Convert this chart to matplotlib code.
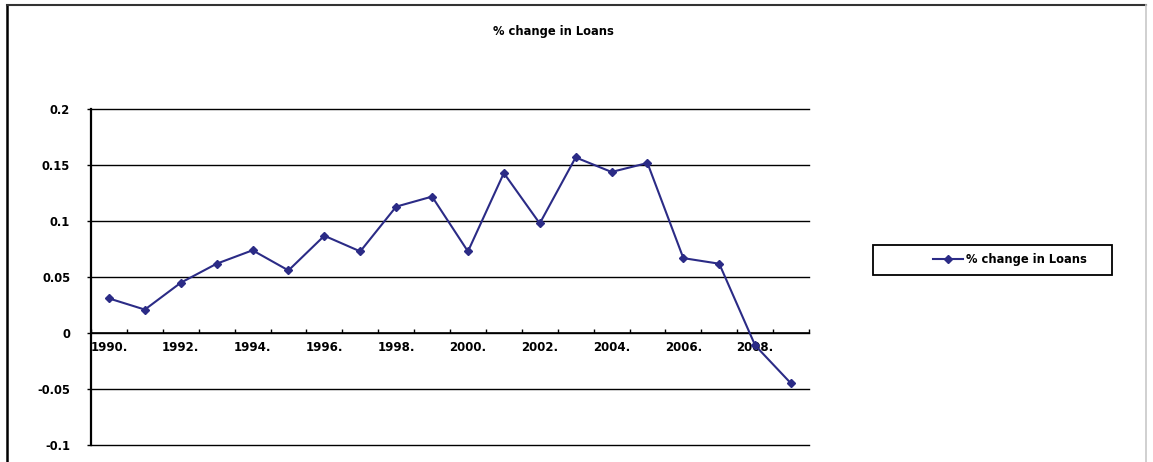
import matplotlib
matplotlib.use("Agg")
import matplotlib.pyplot as plt
from matplotlib.patches import Rectangle
from matplotlib.lines import Line2D
from matplotlib.ticker import FixedLocator, FixedFormatter, MultipleLocator, FuncFormatter

# Annual percentage change in loans
years = [1990, 1991, 1992, 1993, 1994, 1995, 1996, 1997, 1998, 1999,
         2000, 2001, 2002, 2003, 2004, 2005, 2006, 2007, 2008, 2009]
loan_change = [0.031, 0.021, 0.045, 0.062, 0.074, 0.056, 0.087, 0.073, 0.113, 0.122,
               0.073, 0.143, 0.098, 0.157, 0.144, 0.152, 0.067, 0.062, -0.011, -0.045]
series_name = "% change in Loans"
year_labels = [f"{y}." for y in years[::2]]

plt.rcParams["font.family"] = ["DejaVu Sans"]
plt.rcParams["font.weight"] = "bold"

W, H = 1153, 462
fig = plt.figure(figsize=(W / 100, H / 100), dpi=100)

# plot area in pixel terms converted to figure fractions
left, right, top, bottom = 91, 809, 109.3, 445
ax = fig.add_axes([left / W, 1 - bottom / H, (right - left) / W, (bottom - top) / H])

x = list(range(len(years)))
line_color = "#2b2b86"
ax.plot(x, loan_change, color=line_color, lw=1.5, marker="D", markersize=3.6,
        markerfacecolor=line_color, markeredgecolor=line_color, label=series_name,
        zorder=3)

ax.set_xlim(-0.5, len(years) - 0.5)
ax.set_ylim(-0.1, 0.2)

# horizontal gridlines
ax.yaxis.set_major_locator(MultipleLocator(0.05))
ax.yaxis.set_major_formatter(FuncFormatter(lambda v, p: f"{v:g}" if abs(v) > 1e-9 else "0"))
ax.grid(axis="y", color="black", lw=1.0, zorder=1)
for gl in ax.get_ygridlines():
    gl.set_clip_on(False)

# category axis crossing at zero
for s in ("top", "right"):
    ax.spines[s].set_visible(False)
ax.spines["left"].set_color("black")
ax.spines["left"].set_linewidth(1.6)
ax.spines["bottom"].set_position(("data", 0))
ax.spines["bottom"].set_color("black")
ax.spines["bottom"].set_linewidth(1.2)

ax.xaxis.set_major_locator(FixedLocator([i + 0.5 for i in range(-1, len(years))]))
ax.xaxis.set_major_formatter(FixedFormatter([""] * (len(years) + 1)))
ax.xaxis.set_minor_locator(FixedLocator(x[::2]))
ax.xaxis.set_minor_formatter(FixedFormatter(year_labels))
ax.tick_params(axis="x", which="major", direction="in", length=3, width=1, color="black")
ax.tick_params(axis="x", which="minor", length=0, pad=6, labelsize=8.5)
ax.tick_params(axis="y", which="major", length=3, width=1, pad=12, labelsize=8.3)

fig.text(553 / W, 1 - 31 / H, series_name, ha="center", va="center",
         fontsize=8.3, fontweight="bold")

# legend with its own box
handles, labels = ax.get_legend_handles_labels()
fig.legend(handles, labels, loc="center", bbox_to_anchor=(1010 / W, 1 - 260 / H),
           frameon=False, fontsize=8.3, handlelength=2.6, handletextpad=0.3)
fig.add_artist(Rectangle((873 / W, 1 - 275 / H), (1112 - 873) / W, (275 - 245) / H,
                         transform=fig.transFigure, fill=False, edgecolor="black", lw=1.3))

# outer chart border: dark left/top edges, faint right edge
bx0, bx1, by0, by1 = 7 / W, 1146 / W, 0.0, 1 - 5 / H
fig.add_artist(Line2D([bx0, bx0], [by0, by1], transform=fig.transFigure,
                      color="black", lw=1.8))
fig.add_artist(Line2D([bx0, bx1], [by1, by1], transform=fig.transFigure,
                      color="#333333", lw=1.5))
fig.add_artist(Line2D([bx1, bx1], [by0, by1], transform=fig.transFigure,
                      color="#c8c8c8", lw=1.2))

fig.savefig("out.png", dpi=100)
